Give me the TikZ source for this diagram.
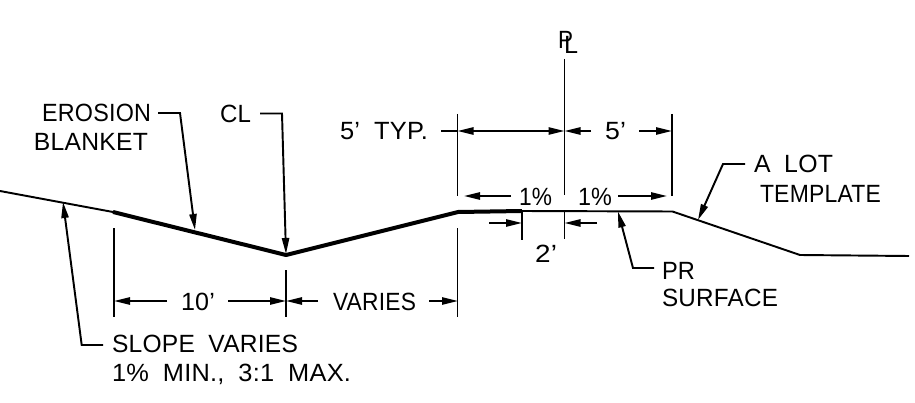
\documentclass[tikz,border=0pt]{standalone}
\usepackage{fontspec}
\usepackage{graphicx}
\setmainfont[LetterSpace=1]{Liberation Sans}
\usetikzlibrary{arrows.meta}
\newdimen\pxunit \pxunit=0.75pt
\newcommand{\fitw}[2]{\resizebox{#1\pxunit}{\height}{#2}}
\newcommand{\gapw}{\hspace{0.55em}}
\tikzset{
  thinline/.style={line width=1.45pt, line cap=butt, line join=miter},
  thickline/.style={line width=3pt, line join=round},
  extline/.style={line width=1.45pt},
  tiparrow/.style={-{Triangle[length=12pt,width=5.4pt]}, line width=1.45pt},
  lbl/.style={inner sep=0pt, outer sep=0pt, anchor=base west, font=\fontsize{18.7pt}{20pt}\selectfont},
}
\begin{document}
\begin{tikzpicture}[x=0.75pt,y=-0.75pt]
\useasboundingbox (0,0) rectangle (915,403);
% ground
\coordinate (g0) at (0,191); \coordinate (g1) at (113,212); \coordinate (g2) at (286,255);
\coordinate (g3) at (458,212); \coordinate (g4) at (522,211); \coordinate (g5) at (672.5,211.5);
\coordinate (g6) at (800,255); \coordinate (g7) at (909,256);
\draw[thinline] (g0) -- (g1);
\draw[thickline] (g1) -- (g2) -- (g3) -- (g4);
\draw[thinline] (g4) -- (g5) -- (g6) -- (g7);
% PL symbol
\node[lbl] (plP) at (558,49) {\fitw{15}{P}};
\node[lbl] (plL) at (564,54) {\fitw{14}{L}};
% vertical extension lines
\coordinate (a1) at (564.5,59); \coordinate (a2) at (564.5,195);
\draw[extline] (a1) -- (a2);
\coordinate (b1) at (457.5,114); \coordinate (b2) at (457.5,196);
\draw[extline] (b1) -- (b2);
\coordinate (c1) at (672,114); \coordinate (c2) at (672,196);
\draw[extline] (c1) -- (c2);
\coordinate (d1) at (114,228); \coordinate (d2) at (114,317);
\draw[extline] (d1) -- (d2);
\coordinate (e1) at (286,270); \coordinate (e2) at (286,317);
\draw[extline] (e1) -- (e2);
\coordinate (f1) at (457.5,228); \coordinate (f2) at (457.5,317);
\draw[extline] (f1) -- (f2);
\coordinate (h1) at (522,211); \coordinate (h2) at (522,240);
\draw[extline] (h1) -- (h2);
\coordinate (i1) at (564.5,211); \coordinate (i2) at (564.5,239);
\draw[extline] (i1) -- (i2);
% upper dimension
\node[lbl] (typ) at (340,139.5) {\fitw{88}{5’\gapw TYP.}};
\node[lbl] (five) at (605,139.5) {\fitw{21}{5’}};
\coordinate (u0) at (441,131); \coordinate (u1) at (457.5,131); \coordinate (u2) at (564.5,131);
\coordinate (u3) at (591,131); \coordinate (u4) at (639,131); \coordinate (u5) at (672,131);
\draw[thinline] (u0) -- (u1);
\draw[tiparrow, {Triangle[length=12pt,width=5.4pt]}-{Triangle[length=12pt,width=5.4pt]}] (u1) -- (u2);
\draw[tiparrow] (u3) -- (u2);
\draw[tiparrow] (u4) -- (u5);
% 1% row
\node[lbl] (pa) at (519,205) {\fitw{33}{1\%}};
\node[lbl] (pb) at (578,205) {\fitw{34}{1\%}};
\coordinate (p1) at (511,196); \coordinate (p2) at (464,196);
\coordinate (p3) at (618,196); \coordinate (p4) at (667,196);
\draw[tiparrow] (p1) -- (p2);
\draw[tiparrow] (p3) -- (p4);
% 2' dim
\node[lbl] (two) at (535,262.5) {\fitw{22}{2’}};
\coordinate (q1) at (489,223); \coordinate (q2) at (522,223);
\coordinate (q3) at (597,223); \coordinate (q4) at (564.5,223);
\draw[tiparrow] (q1) -- (q2);
\draw[tiparrow] (q3) -- (q4);
% lower dim
\node[lbl] (ten) at (181,310) {\fitw{34}{10’}};
\node[lbl] (var) at (333,310) {\fitw{83}{VARIES}};
\coordinate (r1) at (167,301); \coordinate (r2) at (114,301);
\coordinate (r3) at (228,301); \coordinate (r4) at (286,301);
\coordinate (r5) at (318,301); \coordinate (r6) at (429,301); \coordinate (r7) at (458,301);
\draw[tiparrow] (r1) -- (r2);
\draw[tiparrow] (r3) -- (r4);
\draw[tiparrow] (r5) -- (r4);
\draw[tiparrow] (r6) -- (r7);
% labels + leaders
\node[lbl] (ero) at (42,122) {\fitw{109}{EROSION}};
\node[lbl] (bla) at (34,151) {\fitw{114}{BLANKET}};
\coordinate (s0) at (158,113); \coordinate (s1) at (180,113); \coordinate (s2) at (195,230);
\draw[tiparrow] (s0) -- (s1) -- (s2);
\node[lbl] (cl) at (220,123) {\fitw{31}{CL}};
\coordinate (t0) at (260,113.5); \coordinate (t1) at (282,113.5); \coordinate (t2) at (286,254);
\draw[tiparrow] (t0) -- (t1) -- (t2);
\node[lbl] (slo) at (112,352) {\fitw{186}{SLOPE\gapw VARIES}};
\node[lbl] (min) at (112,381) {\fitw{239}{1\%\gapw MIN.,\gapw 3:1\gapw MAX.}};
\coordinate (v0) at (103,345); \coordinate (v1) at (81.7,345); \coordinate (v2) at (63,202);
\draw[tiparrow] (v0) -- (v1) -- (v2);
\node[lbl] (pr) at (662,279.3) {\fitw{33}{PR}};
\node[lbl] (sur) at (662,306.7) {\fitw{116}{SURFACE}};
\coordinate (w0) at (654,268); \coordinate (w1) at (633,268); \coordinate (w2) at (618,211.5);
\draw[tiparrow] (w0) -- (w1) -- (w2);
\node[lbl] (lot) at (754,173) {\fitw{79}{A\gapw LOT}};
\node[lbl] (tem) at (760,202) {\fitw{121}{TEMPLATE}};
\coordinate (x0) at (745,164); \coordinate (x1) at (723,164); \coordinate (x2) at (698,220);
\draw[tiparrow] (x0) -- (x1) -- (x2);
\end{tikzpicture}
\end{document}
